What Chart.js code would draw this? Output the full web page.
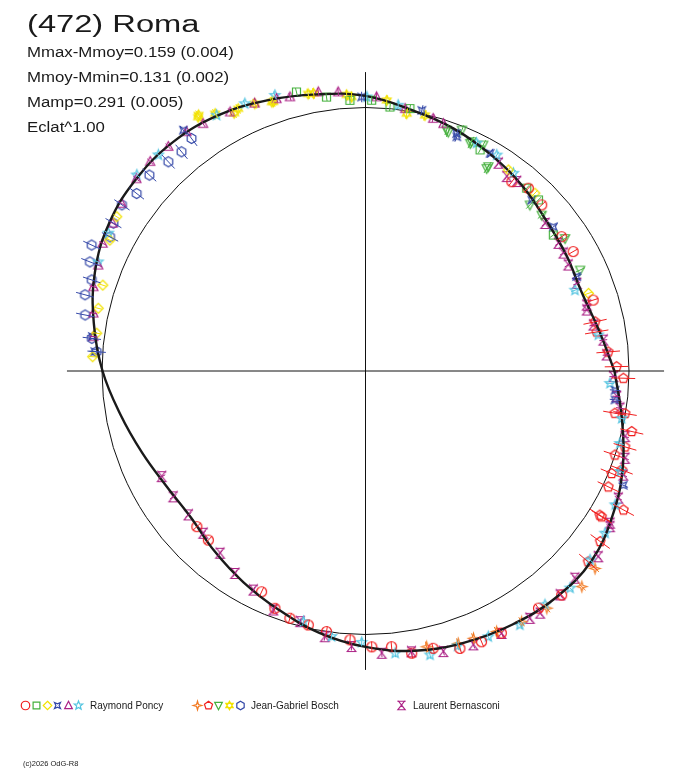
<!DOCTYPE html>
<html>
<head>
<meta charset="utf-8">
<script src="https://cdn.jsdelivr.net/npm/chart.js@4.4.1/dist/chart.umd.min.js"></script>
<style>
html, body { margin: 0; padding: 0; background: #fff; }
#wrap { position: relative; width: 688px; height: 768px; overflow: hidden; }
#c { position: absolute; left: 0; top: 0; }
.t { position: absolute; font-family: "Liberation Sans", Arial, sans-serif; color: #1a1a1a; white-space: nowrap; line-height: 1; transform-origin: 0 0; }
</style>
</head>
<body>
<div id="wrap">
  <canvas id="c" width="688" height="768"></canvas>
  <div class="t" style="left:27px;top:12.8px;font-size:23px;transform:scaleX(1.42)">(472) Roma</div>
  <div class="t" style="left:27px;top:45px;font-size:14px;transform:scaleX(1.2)">Mmax-Mmoy=0.159 (0.004)</div>
  <div class="t" style="left:27px;top:70px;font-size:14px;transform:scaleX(1.2)">Mmoy-Mmin=0.131 (0.002)</div>
  <div class="t" style="left:27px;top:95px;font-size:14px;transform:scaleX(1.2)">Mamp=0.291 (0.005)</div>
  <div class="t" style="left:27px;top:120px;font-size:14px;transform:scaleX(1.2)">Eclat^1.00</div>
  <div class="t" style="left:90px;top:700.8px;font-size:10px">Raymond Poncy</div>
  <div class="t" style="left:251px;top:700.8px;font-size:10px">Jean-Gabriel Bosch</div>
  <div class="t" style="left:413px;top:700.8px;font-size:10px">Laurent Bernasconi</div>
  <div class="t" style="left:23px;top:759.7px;font-size:7.5px">(c)2026 OdG-R8</div>
</div>
<script>
// fitted light curve: rotation angle (deg) / relative flux (1 = reference circle)
const curveAng = [0, 10, 20, 30, 40, 50, 60, 70, 80, 90, 100, 110, 120, 130, 140, 150, 160, 170, 180,
  190, 200, 210, 220, 230, 240, 250, 260, 270, 280, 290, 300, 310, 320, 330, 340, 350, 360];
const curveFlux = [0.945, 0.899, 0.873, 0.880, 0.893, 0.922, 0.949, 0.979, 1.006, 1.044, 1.066, 1.093, 1.120,
  1.135, 1.135, 1.123, 1.093, 1.047, 0.998, 0.945, 0.903, 0.873, 0.865, 0.892, 0.926, 0.964, 1.009, 1.047,
  1.078, 1.097, 1.112, 1.123, 1.120, 1.085, 1.040, 0.987, 0.945];

// Raymond Poncy
const rpCircleAng = [52.3, 48.3, 43.3, 34.4, 29.9, 17.3, -48.8, -53.9, -62.6, -66.8, -71.2, -76.3, -80.7, -84.6,
  -88.7, -93.3, -98.5, -102.7, -107, -110.9, -115.2, -132.9, -137.3];
const rpCircleFlux = [0.908, 0.929, 0.919, 0.902, 0.909, 0.905, 1.130, 1.114, 1.120, 1.118, 1.112, 1.083, 1.085,
  1.051, 1.047, 1.022, 1.000, 0.988, 0.981, 0.964, 0.926, 0.876, 0.871];
const rpSquareAng = [103.9, 98.1, 93.3, 88.7, 84.7, 80.4, 62.6, 48.6, 44.7, 35.9];
const rpSquareFlux = [1.091, 1.050, 1.029, 1.028, 1.006, 1.010, 0.945, 0.925, 0.923, 0.880];
const rpDiamondAng = [148.2, 152.9, 161.9, 166.8, 172, 177, 54.6, 46.4, 19.2];
const rpDiamondFlux = [1.111, 1.090, 1.049, 1.042, 1.030, 1.037, 0.936, 0.932, 0.896];
const rpCrossAng = [175.9, 172.8, 127.1, 90.8, 77.8, 69, 68.7, 60.2, 45.8, 37.5, 24.1, -4.4, -6.6, -23.9];
const rpCrossFlux = [1.030, 1.045, 1.146, 1.040, 1.012, 0.965, 0.954, 0.952, 0.905, 0.899, 0.878, 0.950, 0.953, 1.070];
const rpTriAng = [172.8, 168, 162.8, 158.4, 154.1, 149.7, 145.5, 140, 135.8, 131.3, 126.8, 123.3, 117.6, 112.5,
  108.1, 105.4, 99.6, 95.6, 87.7, 81.4, 75, 72.5];
const rpTriFlux = [1.041, 1.056, 1.081, 1.091, 1.109, 1.111, 1.123, 1.135, 1.140, 1.134, 1.134, 1.123, 1.109, 1.100,
  1.087, 1.079, 1.074, 1.064, 1.041, 1.007, 0.992, 0.984];
const rpStarAng = [151.8, 157.8, 139.4, 133.8, 120.2, 114.3, 108.2, 89.7, 83, 64, 58.7, 53.2, 21.1, 8.8, -2.9,
  -10.5, -15.9, -21.5, -28.2, -34.1, -40.1, -46.7, -52.5, -58.7, -65.2, -71.5, -77.2, -84, -90.8, -97.3, -103.9];
const rpStarFlux = [1.107, 1.096, 1.143, 1.136, 1.123, 1.113, 1.101, 1.040, 1.016, 0.962, 0.959, 0.937, 0.852,
  0.894, 0.929, 0.989, 1.004, 1.040, 1.075, 1.098, 1.114, 1.132, 1.119, 1.128, 1.111, 1.100, 1.105, 1.077, 1.030,
  1.016, 0.980];

// Jean-Gabriel Bosch
const jgStar4Ang = [-40.7, -44.9, -52.6, -58.1, -63.3, -68, -71.2, -77.5];
const jgStar4Flux = [1.149, 1.159, 1.133, 1.121, 1.107, 1.094, 1.092, 1.072];
const jgPentAng = [12.1, 9.6, 4.5, 1, -1.6, -9.3, -9.6, -12.8, -16.3, -18.6, -21.1, -22.6, -25.5, -28.3, -31.6,
  -31.7, -36, -40.6];
const jgPentFlux = [0.891, 0.890, 0.924, 0.953, 0.979, 0.998, 0.960, 1.036, 1.026, 0.999, 1.042, 1.012, 1.021,
  1.112, 1.044, 1.053, 1.101, 1.113];
const jgInvTriAng = [71.4, 70.9, 68.2, 65.3, 65.2, 62.5, 59.1, 59, 45.3, 41.5, 33.6, 25.2];
const jgInvTriFlux = [0.965, 0.960, 0.985, 0.951, 0.959, 0.967, 0.896, 0.905, 0.887, 0.893, 0.909, 0.900];
const jgStar6Ang = [123.4, 123.1, 120.3, 117, 115.9, 112.5, 109.2, 108.9, 101.7, 100.6, 93.9, 92.9, 85.5, 80.9, 76.9];
const jgStar6Flux = [1.154, 1.160, 1.131, 1.098, 1.106, 1.098, 1.081, 1.080, 1.074, 1.072, 1.050, 1.041, 1.030,
  0.989, 0.996];
const jgHexAng = [126.8, 130, 133.3, 137.8, 142.2, 145.7, 149.6, 152.3, 155.3, 158.4, 161.6, 164.8, 168.7, 173.2, 175.9];
const jgHexFlux = [1.102, 1.086, 1.091, 1.107, 1.099, 1.119, 1.109, 1.095, 1.144, 1.125, 1.095, 1.103, 1.085,
  1.046, 1.023];

// Laurent Bernasconi
const lbAng = [57.4, 54, 51.4, 39.4, 33.5, 30.8, 27.6, 22.5, 16.6, 15.4, 11.4, 7.4, 3.8, -1.3, -5.8, -8.3, -14.2,
  -18.6, -22, -26.7, -31.9, -32.5, -38.6, -44.7, -49, -54.2, -56.4, -62.6, -68.5, -74.5, -80.7, -86.7, -92.9,
  -98.7, -104.6, -111.1, -117.1, -122.8, -128.6, -135, -140.9, -146.8, -152.6];
const lbFlux = [0.936, 0.912, 0.920, 0.882, 0.878, 0.874, 0.868, 0.868, 0.876, 0.871, 0.882, 0.910, 0.917, 0.941,
  0.958, 0.976, 1.016, 1.039, 1.055, 1.074, 1.093, 1.100, 1.130, 1.118, 1.126, 1.133, 1.127, 1.122, 1.117, 1.105,
  1.080, 1.073, 1.047, 1.020, 0.983, 0.972, 0.934, 0.914, 0.885, 0.871, 0.866, 0.872, 0.871];

const observers = ['Raymond Poncy', 'Jean-Gabriel Bosch', 'Laurent Bernasconi'];

const RED = '#f01e1e', GREEN = '#44b03c', YELLOW = '#f2e200', BLUE = '#3448a8',
  PURPLE = '#ac2286', CYAN = '#52c4e0', ORANGE = '#f27a22';

function makeSym(kind, color, s) {
  const size = Math.ceil(s) % 2 ? Math.ceil(s) + 6 : Math.ceil(s) + 5;
  const c = document.createElement('canvas');
  c.width = c.height = size;
  const g = c.getContext('2d');
  g.strokeStyle = color;
  g.lineWidth = 1.2;
  g.translate(size / 2, size / 2);
  const r = s / 2;
  const poly = (pts) => { g.moveTo(pts[0][0], pts[0][1]); pts.slice(1).forEach(p => g.lineTo(p[0], p[1])); g.closePath(); };
  const ring = (n, ro, ri, a0) => {
    const pts = [];
    for (let i = 0; i < n * (ri ? 2 : 1); i++) {
      const rr = ri && i % 2 ? ri : ro;
      const a = a0 + i * Math.PI * 2 / (n * (ri ? 2 : 1));
      pts.push([rr * Math.cos(a), rr * Math.sin(a)]);
    }
    poly(pts);
  };
  g.beginPath();
  if (kind === 'circle') g.arc(0, 0, r, 0, Math.PI * 2);
  else if (kind === 'square') g.rect(-r * 0.8, -r * 0.8, r * 1.6, r * 1.6);
  else if (kind === 'diamond') poly([[0, -r], [r, 0], [0, r], [-r, 0]]);
  else if (kind === 'cross') ring(4, r * 1.0, r * 0.38, -Math.PI * 3 / 4);
  else if (kind === 'tri') poly([[0, -r], [r * 0.9, r * 0.75], [-r * 0.9, r * 0.75]]);
  else if (kind === 'star5') ring(5, r * 1.05, r * 0.45, -Math.PI / 2);
  else if (kind === 'star4') ring(4, r, r * 0.32, -Math.PI / 2);
  else if (kind === 'pent') ring(5, r, 0, -Math.PI / 2);
  else if (kind === 'invtri') poly([[0, r], [r * 0.9, -r * 0.75], [-r * 0.9, -r * 0.75]]);
  else if (kind === 'star6') {
    poly([[0, -r], [r * 0.87, r * 0.5], [-r * 0.87, r * 0.5]]);
    poly([[0, r], [r * 0.87, -r * 0.5], [-r * 0.87, -r * 0.5]]);
  } else if (kind === 'hex') ring(6, r, 0, -Math.PI / 2);
  else if (kind === 'hourglass') {
    g.moveTo(-r * 0.8, -r); g.lineTo(r * 0.8, -r);
    g.moveTo(-r * 0.8, -r * 1.2); g.lineTo(-r * 0.8, -r * 0.8);
    g.moveTo(r * 0.8, -r * 1.2); g.lineTo(r * 0.8, -r * 0.8);
    g.moveTo(-r * 0.7, -r); g.lineTo(0, -r * 0.1); g.lineTo(r * 0.7, -r);
    g.moveTo(0, -r * 0.1); g.lineTo(-r * 0.85, r); g.lineTo(r * 0.85, r); g.closePath();
  }
  g.stroke();
  return c;
}

const series = [
  { ang: rpCircleAng, flux: rpCircleFlux, kind: 'circle', color: RED, err: 0.02 },
  { ang: rpSquareAng, flux: rpSquareFlux, kind: 'square', color: GREEN, err: 0.015 },
  { ang: rpDiamondAng, flux: rpDiamondFlux, kind: 'diamond', color: YELLOW, err: 0.015 },
  { ang: rpCrossAng, flux: rpCrossFlux, kind: 'cross', color: BLUE, err: 0.02 },
  { ang: rpTriAng, flux: rpTriFlux, kind: 'tri', color: PURPLE, err: 0.015 },
  { ang: rpStarAng, flux: rpStarFlux, kind: 'star5', color: CYAN, err: 0.015 },
  { ang: jgStar4Ang, flux: jgStar4Flux, kind: 'star4', color: ORANGE, err: 0.02 },
  { ang: jgPentAng, flux: jgPentFlux, kind: 'pent', color: RED, err: 0.045 },
  { ang: jgInvTriAng, flux: jgInvTriFlux, kind: 'invtri', color: GREEN, err: 0.02 },
  { ang: jgStar6Ang, flux: jgStar6Flux, kind: 'star6', color: YELLOW, err: 0.02 },
  { ang: jgHexAng, flux: jgHexFlux, kind: 'hex', color: BLUE, err: 0.035 },
  { ang: lbAng, flux: lbFlux, kind: 'hourglass', color: PURPLE, err: 0.015 }
];

const toXY = (ang, flux) => ang.map((a, i) => ({
  x: flux[i] * Math.cos(a * Math.PI / 180),
  y: flux[i] * Math.sin(a * Math.PI / 180)
}));

const axisExt = 1.133;
const datasets = [
  { data: [{ x: -axisExt, y: 0 }, { x: axisExt, y: 0 }], showLine: true, borderColor: '#111', borderWidth: 1, pointRadius: 0 },
  { data: [{ x: 0, y: axisExt }, { x: 0, y: -axisExt }], showLine: true, borderColor: '#111', borderWidth: 1, pointRadius: 0 },
  { data: toXY(curveAng, curveFlux), showLine: true, tension: 0.4, borderColor: '#1a1a1a', borderWidth: 2.4, pointRadius: 0 }
];
series.forEach(s => {
  datasets.push({
    data: toXY(s.ang, s.flux),
    pointStyle: makeSym(s.kind, s.color, 10),
    pointRadius: 5,
    showLine: false,
    errBar: s.err,
    errColor: s.color,
    polar: { ang: s.ang, flux: s.flux }
  });
});

const refCircle = {
  id: 'refCircle',
  beforeDatasetsDraw(chart) {
    const { ctx, scales: { x, y } } = chart;
    const cx = x.getPixelForValue(0), cy = y.getPixelForValue(0);
    const r = x.getPixelForValue(1) - cx;
    ctx.save();
    ctx.strokeStyle = '#111';
    ctx.lineWidth = 1;
    ctx.beginPath();
    ctx.arc(cx, cy, r, 0, Math.PI * 2);
    ctx.stroke();
    ctx.restore();
  }
};

const radialBars = {
  id: 'radialBars',
  afterDatasetsDraw(chart) {
    const { ctx, scales: { x, y } } = chart;
    ctx.save();
    ctx.lineWidth = 1;
    chart.data.datasets.forEach(ds => {
      if (!ds.polar) return;
      ctx.strokeStyle = ds.errColor;
      ds.polar.ang.forEach((a, i) => {
        const c = Math.cos(a * Math.PI / 180), s = Math.sin(a * Math.PI / 180);
        const f0 = ds.polar.flux[i] - ds.errBar, f1 = ds.polar.flux[i] + ds.errBar;
        ctx.beginPath();
        ctx.moveTo(x.getPixelForValue(f0 * c), y.getPixelForValue(f0 * s));
        ctx.lineTo(x.getPixelForValue(f1 * c), y.getPixelForValue(f1 * s));
        ctx.stroke();
      });
    });
    ctx.restore();
  }
};

// legend symbols, grouped per observer
const legendSpots = [[25, 705], [36, 705], [47, 705], [57.5, 705], [68, 705], [78.5, 705],
  [197.5, 705], [208.5, 705], [218.5, 705], [229, 705], [240.5, 705], [401.5, 705]];
const legendSyms = {
  id: 'legendSyms',
  afterDraw(chart) {
    const ctx = chart.ctx;
    series.forEach((s, i) => {
      const img = makeSym(s.kind, s.color, 8.5);
      const [lx, ly] = legendSpots[i];
      ctx.drawImage(img, Math.round(lx - img.width / 2), Math.round(ly - img.height / 2));
    });
  }
};

new Chart(document.getElementById('c'), {
  type: 'scatter',
  data: { datasets },
  options: {
    responsive: false,
    animation: false,
    devicePixelRatio: 1,
    layout: { padding: 0, autoPadding: false },
    clip: false,
    scales: {
      x: { type: 'linear', display: false, min: -1.3871, max: 1.2239 },
      y: { type: 'linear', display: false, min: -1.5066, max: 1.4080 }
    },
    plugins: { legend: { display: false }, tooltip: { enabled: false } }
  },
  plugins: [refCircle, radialBars, legendSyms]
});
</script>
</body>
</html>
